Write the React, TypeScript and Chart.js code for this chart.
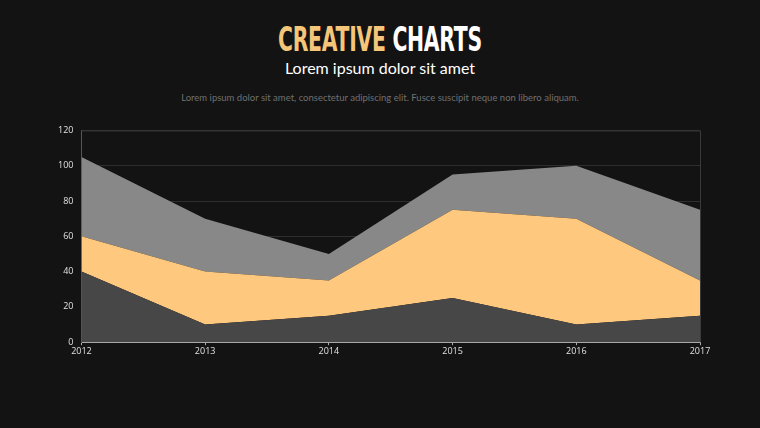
import React, { useEffect, useRef } from "react";
import { Chart, registerables } from "chart.js";

Chart.register(...registerables);

const years = ["2012", "2013", "2014", "2015", "2016", "2017"];
const seriesBottom = [40, 10, 15, 25, 10, 15];
const seriesMiddle = [20, 30, 20, 50, 60, 20];
const seriesTop = [45, 30, 15, 20, 30, 40];
const yTicks = [0, 20, 40, 60, 80, 100, 120];

const borderPlugin = {
  id: "areaBorder",
  afterDraw(chart: any) {
    const { ctx, chartArea } = chart;
    ctx.save();
    ctx.strokeStyle = "#3a3a3a";
    ctx.lineWidth = 1;
    ctx.beginPath();
    ctx.moveTo(chartArea.left, chartArea.top + 0.5);
    ctx.lineTo(chartArea.right + 0.5, chartArea.top + 0.5);
    ctx.lineTo(chartArea.right + 0.5, chartArea.bottom);
    ctx.stroke();
    ctx.restore();
  },
};

export default function App() {
  const ref = useRef<HTMLCanvasElement>(null);
  useEffect(() => {
    document.body.style.margin = "0";
    document.body.style.background = "#131313";
    const chart = new Chart(ref.current!, {
      type: "line",
      data: {
        labels: years,
        datasets: [
          { data: seriesBottom, backgroundColor: "#474747", borderWidth: 0, fill: "origin", pointRadius: 0 },
          { data: seriesMiddle, backgroundColor: "#fec97e", borderWidth: 0, fill: "-1", pointRadius: 0 },
          { data: seriesTop, backgroundColor: "#888888", borderWidth: 0, fill: "-1", pointRadius: 0 },
        ],
      },
      options: {
        animation: false,
        responsive: false,
        maintainAspectRatio: false,
        layout: { padding: { left: 0, right: 40, top: 6, bottom: 0 } },
        plugins: { legend: { display: false }, tooltip: { enabled: false } },
        elements: { line: { tension: 0 } },
        scales: {
          x: {
            offset: false,
            grid: { display: true, drawOnChartArea: false, drawTicks: true, tickLength: 3, color: "#aaaaaa" },
            border: { color: "#aaaaaa", width: 1 },
            ticks: { color: "#e0e0e0", font: { family: "Open Sans", size: 9 }, maxRotation: 0, padding: 1 },
          },
          y: {
            stacked: true,
            min: 0,
            max: 120,
            afterBuildTicks: (axis: any) => {
              axis.ticks = yTicks.map((v) => ({ value: v }));
            },
            grid: { color: "#2e2e2e", drawTicks: false },
            border: { color: "#555555", width: 1 },
            ticks: { color: "#e0e0e0", font: { family: "Open Sans", size: 9 }, padding: 8 },
          },
        },
      },
      plugins: [borderPlugin],
    });
    return () => chart.destroy();
  }, []);

  return (
    <div style={{ position: "fixed", left: 0, top: 0, width: 760, height: 428, background: "#131313", overflow: "hidden" }}>
      <div
        style={{
          position: "absolute",
          top: 19,
          width: 760,
          textAlign: "center",
          lineHeight: "40px",
        }}
      >
        <span
          style={{
            display: "inline-block",
            transform: "scaleX(0.6)",
            fontFamily: "'DejaVu Sans'",
            fontWeight: 700,
            fontSize: 34,
            letterSpacing: -0.5,
            whiteSpace: "nowrap",
          }}
        >
          <span style={{ color: "#f5c57a" }}>CREATIVE</span> <span style={{ color: "#ffffff" }}>CHARTS</span>
        </span>
      </div>
      <div
        style={{
          position: "absolute",
          top: 56,
          width: 760,
          textAlign: "center",
          fontFamily: "Lato",
          fontSize: 16,
          color: "#ffffff",
          lineHeight: "24px",
        }}
      >
        Lorem ipsum dolor sit amet
      </div>
      <div
        style={{
          position: "absolute",
          top: 91,
          width: 760,
          textAlign: "center",
          fontFamily: "Lato",
          fontSize: 9.5,
          color: "#707070",
          lineHeight: "14px",
        }}
      >
        Lorem ipsum dolor sit amet, consectetur adipiscing elit. Fusce suscipit neque non libero aliquam.
      </div>
      <canvas ref={ref} width={690} height={241} style={{ position: "absolute", left: 50, top: 117 }} />
    </div>
  );
}
